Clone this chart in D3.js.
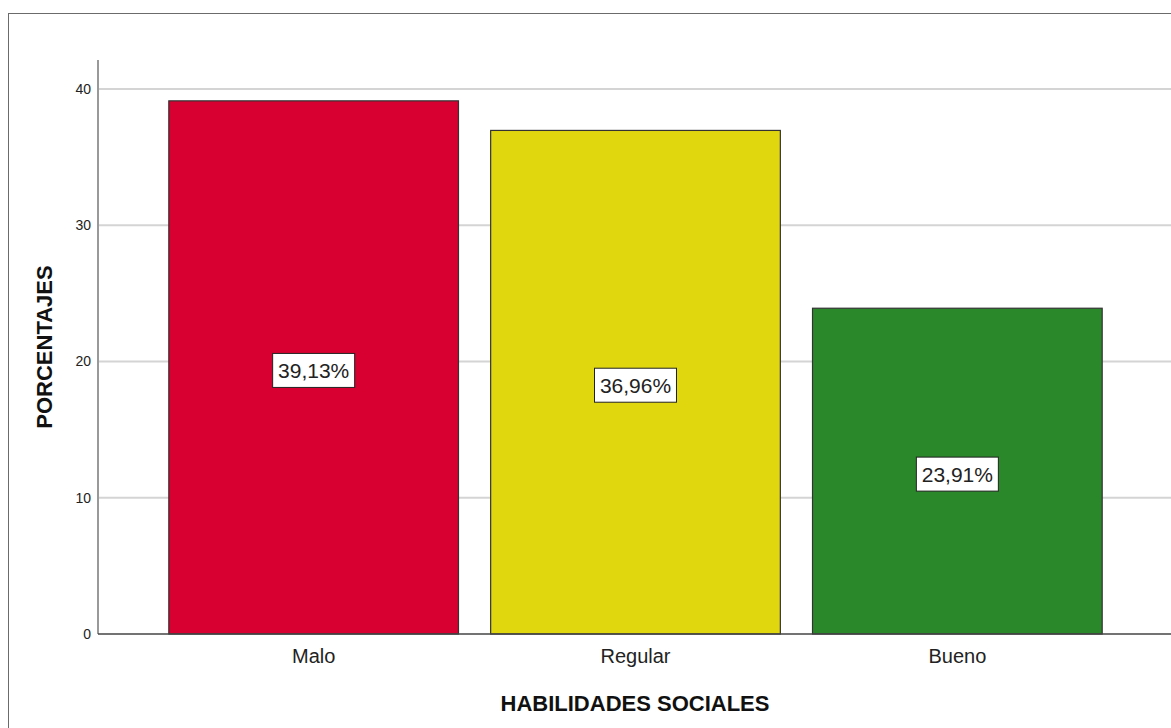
<!DOCTYPE html>
<html>
<head>
<meta charset="utf-8">
<script src="https://cdn.jsdelivr.net/npm/d3@7"></script>
<style>
  html, body { margin: 0; padding: 0; background: #fff; }
  svg { display: block; font-family: "Liberation Sans", Arial, sans-serif; }
</style>
</head>
<body>
<svg id="chart" width="1171" height="728"></svg>
<script>
const categories = ["Malo", "Regular", "Bueno"];
const values = [39.13, 36.96, 23.91];
const valueLabels = ["39,13%", "36,96%", "23,91%"];
const colors = ["#d70030", "#e1d70e", "#2a882a"];
const yTicks = [0, 10, 20, 30, 40];
const xTitle = "HABILIDADES SOCIALES";
const yTitle = "PORCENTAJES";

const svg = d3.select("#chart");
const W = 1171, H = 728;

// outer frame
svg.append("rect").attr("x", 8.5).attr("y", 13.5).attr("width", W + 10).attr("height", H + 10)
  .attr("fill", "none").attr("stroke", "#6b6b6b").attr("stroke-width", 1);

const x0 = 98, x1 = 1173, yBase = 634, yTop = 89;
const x = d3.scaleBand().domain(categories).range([x0, x1]).paddingInner(0.1).paddingOuter(0.22);
const y = d3.scaleLinear().domain([0, 40]).range([yBase, yTop]);

// gridlines
svg.append("g").selectAll("line").data(yTicks.filter(d => d > 0)).join("line")
  .attr("x1", x0).attr("x2", W).attr("y1", d => y(d)).attr("y2", d => y(d))
  .attr("stroke", "#d4d4d4").attr("stroke-width", 2);

// y axis line
svg.append("line").attr("x1", x0).attr("x2", x0).attr("y1", 60).attr("y2", yBase)
  .attr("stroke", "#999").attr("stroke-width", 2);

// y tick labels
const yAxis = d3.axisLeft(y).tickValues(yTicks).tickSize(0).tickPadding(7);
const gy = svg.append("g").attr("transform", `translate(${x0},0)`).call(yAxis);
gy.select(".domain").remove();
gy.selectAll("text").attr("font-size", 14).attr("fill", "#222")
  .attr("font-family", "'Liberation Sans', Arial, sans-serif");

// bars
svg.append("g").selectAll("rect").data(categories).join("rect")
  .attr("x", d => x(d)).attr("width", x.bandwidth())
  .attr("y", (d, i) => y(values[i])).attr("height", (d, i) => yBase - y(values[i]))
  .attr("fill", (d, i) => colors[i]).attr("stroke", "#333").attr("stroke-width", 1.2);

// x axis line
svg.append("line").attr("x1", x0).attr("x2", W).attr("y1", yBase).attr("y2", yBase)
  .attr("stroke", "#444").attr("stroke-width", 1.5);

// x tick labels
const xAxis = d3.axisBottom(x).tickSize(0).tickPadding(15);
const gx = svg.append("g").attr("transform", `translate(0,${yBase})`).call(xAxis);
gx.select(".domain").remove();
gx.selectAll("text").attr("font-size", 20).attr("fill", "#222")
  .attr("font-family", "'Liberation Sans', Arial, sans-serif");

// value labels
const lab = svg.append("g").selectAll("g").data(categories).join("g")
  .attr("transform", (d, i) => `translate(${x(d) + x.bandwidth() / 2},${(y(values[i]) + yBase) / 2 + 3})`);
lab.append("rect").attr("x", -41).attr("y", -17).attr("width", 82).attr("height", 34)
  .attr("fill", "#fff").attr("stroke", "#222").attr("stroke-width", 1);
lab.append("text").attr("text-anchor", "middle").attr("dy", "0.36em")
  .attr("font-size", 21).attr("fill", "#222").text((d, i) => valueLabels[i]);

// axis titles
svg.append("text").attr("x", 635).attr("y", 711).attr("text-anchor", "middle")
  .attr("font-size", 22).attr("font-weight", "bold").attr("fill", "#111").text(xTitle);
svg.append("text").attr("transform", `translate(52,347) rotate(-90)`).attr("text-anchor", "middle")
  .attr("font-size", 22).attr("font-weight", "bold").attr("fill", "#111").text(yTitle);
</script>
</body>
</html>
